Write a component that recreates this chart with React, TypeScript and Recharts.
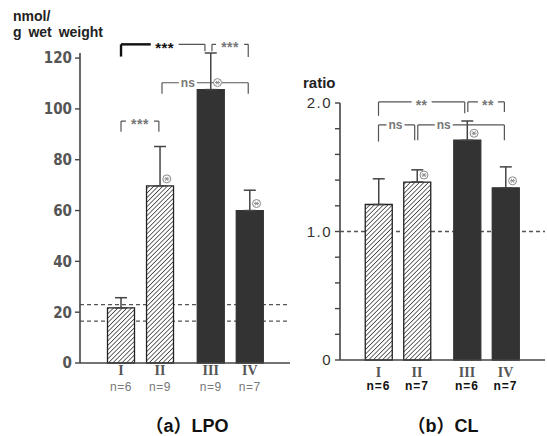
import React from 'react';
import { BarChart, Bar, XAxis, YAxis, ReferenceLine, ErrorBar, Cell, LabelList, CartesianGrid } from 'recharts';

// ---------- data ----------
const categories = ['I', 'II', 'III', 'IV'];
const groupOf = [0, 0, 1, 1];

const lpoN = ['n=6', 'n=9', 'n=9', 'n=7'];
const lpoMean = [21.7, 69.7, 107.6, 60];
const lpoSD = [4, 15.5, 14.4, 8];
const lpoMarked = [0, 1, 1, 1];
const lpoNormal = [16.5, 23];
const lpoTicks = [0, 20, 40, 60, 80, 100, 120];

const clN = ['n=6', 'n=7', 'n=6', 'n=7'];
const clMean = [1.21, 1.385, 1.71, 1.34];
const clSD = [0.2, 0.095, 0.15, 0.163];
const clMarked = [0, 1, 1, 1];
const clNormal = [1.0];
const clTicks = [0, 0.2, 0.4, 0.6, 0.8, 1.0, 1.2, 1.4, 1.6, 1.8, 2.0];
const clTickLabels: Record<string, string> = { '0': '0', '1': '1.0', '2': '2.0' };

const lpoBrackets = [
  { from: 0, to: 2, level: 125.4, dropL: 120.6, dropR: 122.7, adjL: 0, adjR: -0.15, text: '***', frac: 0.52, strong: true },
  { from: 2, to: 3, level: 125.4, dropL: 122.7, dropR: 120.4, adjL: 0.03, adjR: -0.04, text: '***', frac: 0.5, strong: false },
  { from: 1, to: 3, level: 110.3, dropL: 106, dropR: 106, adjL: 0.05, adjR: -0.04, text: 'ns', frac: 0.3, strong: false },
  { from: 0, to: 1, level: 95.2, dropL: 91, dropR: 91, adjL: 0, adjR: -0.03, text: '***', frac: 0.5, strong: false },
];

const clBrackets = [
  { from: 0, to: 2, level: 2.008, dropL: 1.9, dropR: 1.92, adjL: 0, adjR: -0.06, text: '**', frac: 0.5, strong: false },
  { from: 2, to: 3, level: 2.008, dropL: 1.93, dropR: 1.93, adjL: 0.02, adjR: -0.03, text: '**', frac: 0.55, strong: false },
  { from: 0, to: 1, level: 1.829, dropL: 1.7, dropR: 1.71, adjL: 0, adjR: -0.06, text: 'ns', frac: 0.47, strong: false },
  { from: 1, to: 3, level: 1.829, dropL: 1.71, dropR: 1.71, adjL: 0.02, adjR: -0.03, text: 'ns', frac: 0.3, strong: false },
];

// layout helper: categories placed on a numeric axis, with an extra gap between groups
const GROUP_GAP = 0.3;
const xPos = categories.map((_, i) => i + 1 + groupOf[i] * GROUP_GAP);

const buildRows = (mean: number[], sd: number[], marked: number[]) =>
  categories.map((c, i) => ({ x: xPos[i], cat: c, v: mean[i], err: [0, sd[i]], mark: marked[i] ? 'y' : 'n' }));

const lpoRows = buildRows(lpoMean, lpoSD, lpoMarked);
const clRows = buildRows(clMean, clSD, clMarked);

const SANS = 'Liberation Sans, Arial, sans-serif';
const LINE = '#555';

// ---------- small renderers ----------
const CatTick = (props: any) => {
  const { x, y, payload, ns, bold, dy1, dy2 } = props;
  const i = xPos.findIndex((p) => Math.abs(p - payload.value) < 1e-6);
  if (i < 0) return null;
  return (
    <g>
      <text x={x} y={y + dy1} textAnchor="middle" fontFamily="Liberation Serif, serif" fontSize={14} fontWeight="bold" fill="#555">
        {categories[i]}
      </text>
      <text
        x={x}
        y={y + dy2}
        textAnchor="middle"
        fontFamily={SANS}
        fontSize={12}
        fontWeight={bold ? 'bold' : 'normal'}
        letterSpacing={bold ? 1 : 0.5}
        fill={bold ? '#111' : '#777'}
      >
        {ns[i]}
      </text>
    </g>
  );
};

const MarkerLabel = (props: any) => {
  const vb = props.viewBox || props;
  const { x, y, width } = vb;
  if (props.value !== 'y' || x == null) return null;
  const cx = x + width * 0.75;
  const cy = y - 7;
  return (
    <g stroke="#8a8a8a" strokeWidth={1} fill="none">
      <circle cx={cx} cy={cy} r={4} fill="#fff" />
      <line x1={cx - 2.5} y1={cy} x2={cx + 2.5} y2={cy} />
      <line x1={cx - 1.5} y1={cy - 2} x2={cx + 1.5} y2={cy + 2} />
      <line x1={cx + 1.5} y1={cy - 2} x2={cx - 1.5} y2={cy + 2} />
    </g>
  );
};

const BracketLabel = (props: any) => {
  const { viewBox, text, frac, strong } = props;
  if (!viewBox) return null;
  const isStar = text.indexOf('*') >= 0;
  const size = isStar ? (strong ? 15 : 14) : 12;
  const cx = viewBox.x + viewBox.width * frac;
  const cy = viewBox.y;
  const w = isStar ? text.length * 8 + 4 : text.length * 7 + 4;
  return (
    <g>
      <rect x={cx - w / 2} y={cy - 4} width={w} height={8} fill="#fff" />
      {strong ? <line x1={viewBox.x} y1={cy} x2={cx - w / 2} y2={cy} stroke="#111" strokeWidth={2.4} /> : null}
      <text
        x={cx}
        y={isStar ? cy + size * 0.58 : cy + 4}
        textAnchor="middle"
        fontFamily={SANS}
        fontWeight="bold"
        fontSize={size}
        letterSpacing={isStar ? 0.5 : 0}
        fill={strong ? '#111' : '#777'}
      >
        {text}
      </text>
    </g>
  );
};

const renderBrackets = (list: any[], prefix: string) =>
  list.flatMap((b, k) => {
    const x1 = xPos[b.from] + b.adjL;
    const x2 = xPos[b.to] + b.adjR;
    return [
      <ReferenceLine
        key={`${prefix}h${k}`}
        segment={[{ x: x1, y: b.level }, { x: x2, y: b.level }]}
        stroke={LINE}
        strokeWidth={1.2}
        ifOverflow="visible"
        label={<BracketLabel text={b.text} frac={b.frac} strong={b.strong} />}
      />,
      <ReferenceLine
        key={`${prefix}l${k}`}
        segment={[{ x: x1, y: b.level }, { x: x1, y: b.dropL }]}
        stroke={b.strong ? '#111' : LINE}
        strokeWidth={b.strong ? 2.4 : 1.2}
        ifOverflow="visible"
      />,
      <ReferenceLine
        key={`${prefix}r${k}`}
        segment={[{ x: x2, y: b.level }, { x: x2, y: b.dropR }]}
        stroke={LINE}
        strokeWidth={1.2}
        ifOverflow="visible"
      />,
    ];
  });

const HatchDef = ({ id }: { id: string }) => (
  <defs>
    <pattern id={id} patternUnits="userSpaceOnUse" width={3.2} height={3.2} patternTransform="rotate(45)">
      <rect width={3.2} height={3.2} fill="#fff" />
      <line x1={0} y1={0} x2={0} y2={3.2} stroke="#444" strokeWidth={1.6} />
    </pattern>
  </defs>
);

// ---------- app ----------
export default function App() {
  return (
    <div style={{ position: 'absolute', left: 0, top: 0, width: 547, height: 436, background: '#fff' }}>
      {/* (a) LPO */}
      <div style={{ position: 'absolute', left: 0, top: 0 }}>
        <BarChart width={300} height={436} data={lpoRows} margin={{ top: 53, right: 10, bottom: 0, left: 0 }}>
          <HatchDef id="hatchA" />
          <CartesianGrid
            vertical={false}
            stroke="#555"
            strokeWidth={1.3}
            strokeDasharray="4 3"
            horizontalValues={lpoNormal}
          />
          <XAxis
            dataKey="x"
            type="number"
            domain={[-0.051, 5.33]}
            ticks={xPos}
            interval={0}
            height={73}
            tickSize={0}
            tickMargin={0}
            tickLine={false}
            axisLine={{ stroke: '#444', strokeWidth: 1.6 }}
            tick={<CatTick ns={lpoN} bold={false} dy1={12} dy2={28} />}
          />
          <YAxis
            type="number"
            domain={[0, 120]}
            ticks={lpoTicks}
            interval={0}
            width={80}
            tickSize={5}
            tickMargin={3}
            axisLine={{ stroke: '#444', strokeWidth: 1.6 }}
            tickLine={{ stroke: '#444', strokeWidth: 1.4 }}
            tick={{ fill: '#555', fontSize: 15, fontWeight: 'bold', fontFamily: 'Liberation Sans Narrow, DejaVu Sans Condensed, sans-serif' }}
          />
          <Bar dataKey="v" barSize={27} isAnimationActive={false}>
            {lpoRows.map((r, i) => (
              <Cell
                key={r.cat}
                fill={groupOf[i] === 0 ? 'url(#hatchA)' : '#333'}
                stroke={groupOf[i] === 0 ? '#222' : '#333'}
                strokeWidth={1.3}
              />
            ))}
            <ErrorBar dataKey="err" width={6} stroke="#444" strokeWidth={1.5} direction="y" />
            <LabelList dataKey="mark" content={<MarkerLabel />} />
          </Bar>
          {renderBrackets(lpoBrackets, 'a')}
        </BarChart>
      </div>

      {/* (b) CL */}
      <div style={{ position: 'absolute', left: 280, top: 0 }}>
        <BarChart width={267} height={436} data={clRows} margin={{ top: 103, right: 2, bottom: 0, left: 0 }}>
          <HatchDef id="hatchB" />
          <CartesianGrid
            vertical={false}
            stroke="#555"
            strokeWidth={1.3}
            strokeDasharray="4 3"
            horizontalValues={clNormal}
          />
          <XAxis
            dataKey="x"
            type="number"
            domain={[0, 5.325]}
            ticks={xPos}
            interval={0}
            height={76}
            tickSize={0}
            tickMargin={0}
            tickLine={false}
            axisLine={{ stroke: '#444', strokeWidth: 1.6 }}
            tick={<CatTick ns={clN} bold={true} dy1={17} dy2={30} />}
          />
          <YAxis
            type="number"
            domain={[0, 2]}
            ticks={clTicks}
            interval={0}
            width={60}
            tickSize={5}
            tickMargin={3}
            axisLine={{ stroke: '#444', strokeWidth: 1.6 }}
            tickLine={{ stroke: '#444', strokeWidth: 1.4 }}
            tickFormatter={(v: number) => clTickLabels[String(Math.round(v * 1000) / 1000)] || ''}
            tick={{ fill: '#333', fontSize: 15, fontFamily: SANS, letterSpacing: 1.5 }}
          />
          <Bar dataKey="v" barSize={27} isAnimationActive={false}>
            {clRows.map((r, i) => (
              <Cell
                key={r.cat}
                fill={groupOf[i] === 0 ? 'url(#hatchB)' : '#333'}
                stroke={groupOf[i] === 0 ? '#222' : '#333'}
                strokeWidth={1.3}
              />
            ))}
            <ErrorBar dataKey="err" width={6} stroke="#444" strokeWidth={1.5} direction="y" />
            <LabelList dataKey="mark" content={<MarkerLabel />} />
          </Bar>
          {renderBrackets(clBrackets, 'b')}
        </BarChart>
      </div>

      {/* text overlay */}
      <svg width={547} height={436} style={{ position: 'absolute', left: 0, top: 0, pointerEvents: 'none' }}>
        <text x={13} y={21} fontFamily={SANS} fontWeight="bold" fontSize={14} fill="#222">nmol/</text>
        <text x={13} y={37} fontFamily={SANS} fontWeight="bold" fontSize={14} fill="#222" wordSpacing={3}>g wet weight</text>
        <text x={303} y={88} fontFamily={SANS} fontWeight="bold" fontSize={15} fill="#222">ratio</text>
        <text x={187} y={432} textAnchor="middle" fontFamily={`${SANS}, Noto Sans CJK JP`} fontWeight="bold" fontSize={18} fill="#111">（a）LPO</text>
        <text x={443} y={432} textAnchor="middle" fontFamily={`${SANS}, Noto Sans CJK JP`} fontWeight="bold" fontSize={18} fill="#111">（b）CL</text>
      </svg>
    </div>
  );
}
